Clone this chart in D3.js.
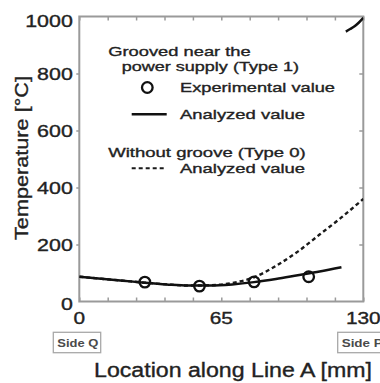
<!DOCTYPE html>
<html><head><meta charset="utf-8">
<script src="https://cdn.jsdelivr.net/npm/d3@7"></script>
<style>
html,body{margin:0;padding:0;background:#fff;}
svg{display:block;font-family:"Liberation Sans",Arial,sans-serif;}
</style></head>
<body>
<svg id="chart" width="380" height="383"></svg>
<script>
// ---- data ----
const xTicksMajor = [0, 65, 130];
const xTicksMinor = [0, 13, 26, 39, 52, 65, 78, 91, 104, 117, 130];
const yTicks = [0, 200, 400, 600, 800, 1000];

const expX = [30, 55, 80, 105];
const expY = [68, 54, 69, 87];

const type1X = [0, 10, 20, 30, 40, 50, 60, 70, 80, 90, 100, 110, 120];
const type1Y = [87, 80, 73, 66, 60, 56, 56, 60, 68, 79, 92, 105, 120];

const type1TopX = [122, 124, 126, 128, 130];
const type1TopY = [947, 956, 966, 979, 995];

const type0X = [0, 10, 20, 30, 40, 50, 60, 70, 80, 90, 100, 110, 120, 130];
const type0Y = [87, 80, 73, 66, 60, 56, 57, 65, 85, 125, 175, 235, 295, 360];

// ---- layout ----
const W = 380, H = 383;
const m = {l: 79.3, t: 16.5, r: 16.7, b: 81.5};
const svg = d3.select("#chart");
const x = d3.scaleLinear().domain([0, 130]).range([m.l, W - m.r]);
const y = d3.scaleLinear().domain([0, 1000]).range([H - m.b, m.t]);
const axisCol = "#9a9a9a", txtCol = "#222";

svg.append("clipPath").attr("id", "clip").append("rect")
  .attr("x", m.l).attr("y", m.t).attr("width", W - m.l - m.r).attr("height", H - m.t - m.b);

function styleAxis(g) {
  g.select(".domain").remove();
  g.selectAll(".tick line").attr("stroke", axisCol).attr("stroke-width", 1.5);
}
svg.append("g").attr("transform", `translate(0,${y(0)})`)
  .call(d3.axisBottom(x).tickValues(xTicksMinor).tickSize(-4).tickFormat(""))
  .call(styleAxis);
svg.append("g").attr("transform", `translate(0,${y(1000)})`)
  .call(d3.axisTop(x).tickValues(xTicksMinor).tickSize(-4).tickFormat(""))
  .call(styleAxis);
svg.append("g").attr("transform", `translate(${x(0)},0)`)
  .call(d3.axisLeft(y).tickValues(yTicks.slice(1, 5)).tickSize(3).tickFormat(""))
  .call(styleAxis);
svg.append("g").attr("transform", `translate(${x(130)},0)`)
  .call(d3.axisRight(y).tickValues(yTicks.slice(1, 5)).tickSize(-4).tickFormat(""))
  .call(styleAxis);

svg.append("rect").attr("x", x(0)).attr("y", y(1000))
  .attr("width", x(130) - x(0)).attr("height", y(0) - y(1000))
  .attr("fill", "none").attr("stroke", axisCol).attr("stroke-width", 2);

const thick = sel => sel.attr("stroke", txtCol).attr("stroke-width", 0.35);

const yLab = svg.append("g").attr("fill", txtCol).attr("font-size", 17).call(thick);
yTicks.forEach(v => {
  yLab.append("text").attr("x", x(0) - 6.5).attr("y", y(v) + (v === 1000 ? 10 : v === 0 ? 8 : 6))
    .attr("text-anchor", "end").text(v)
    .attr("textLength", String(v).length * 11.9).attr("lengthAdjust", "spacingAndGlyphs");
});
const xLab = svg.append("g").attr("fill", txtCol).attr("font-size", 17).call(thick);
xTicksMajor.forEach(v => {
  xLab.append("text").attr("x", x(v)).attr("y", y(0) + 22.5)
    .attr("text-anchor", "middle").text(v)
    .attr("textLength", String(v).length * 11.6).attr("lengthAdjust", "spacingAndGlyphs");
});

svg.append("text").attr("transform", `translate(28,${(76 + 240) / 2}) rotate(-90)`)
  .attr("text-anchor", "middle").attr("font-size", 19).attr("fill", txtCol).call(thick)
  .attr("textLength", 164).attr("lengthAdjust", "spacingAndGlyphs")
  .text("Temperature [°C]");
svg.append("text").attr("x", 94).attr("y", 376.5)
  .attr("font-size", 20).attr("fill", txtCol).call(thick)
  .attr("textLength", 278).attr("lengthAdjust", "spacingAndGlyphs")
  .text("Location along Line A [mm]");

[["Side Q", 53.3, 41], ["Side P", 337.7, 41]].forEach(([s, bx, tl]) => {
  svg.append("rect").attr("x", bx).attr("y", 332.3).attr("width", 47.4).attr("height", 20.4)
    .attr("fill", "#fff").attr("stroke", "#a8a8a8").attr("stroke-width", 1.3);
  svg.append("text").attr("x", bx + 4).attr("y", 347).attr("font-size", 11.5)
    .attr("font-weight", "bold").attr("fill", "#4a4a4a")
    .attr("textLength", tl).attr("lengthAdjust", "spacingAndGlyphs").text(s);
});

const plot = svg.append("g").attr("clip-path", "url(#clip)");
const line = d3.line().x(d => x(d[0])).y(d => y(d[1])).curve(d3.curveMonotoneX);
plot.append("path").datum(d3.zip(type0X, type0Y)).attr("d", line)
  .attr("fill", "none").attr("stroke", "#1a1a1a").attr("stroke-width", 2.4)
  .attr("stroke-dasharray", "4,3");
plot.append("path").datum(d3.zip(type1X, type1Y)).attr("d", line)
  .attr("fill", "none").attr("stroke", "#111").attr("stroke-width", 2.5);
plot.append("path").datum(d3.zip(type1TopX, type1TopY)).attr("d", line)
  .attr("fill", "none").attr("stroke", "#111").attr("stroke-width", 2.5);
plot.selectAll("circle.exp").data(d3.zip(expX, expY)).join("circle")
  .attr("class", "exp").attr("cx", d => x(d[0])).attr("cy", d => y(d[1])).attr("r", 5.3)
  .attr("fill", "none").attr("stroke", "#111").attr("stroke-width", 2.3);

const lg = svg.append("g").attr("fill", txtCol).attr("font-size", 13.5).call(thick);
function lt(s, lx, ly, len) {
  lg.append("text").attr("x", lx).attr("y", ly).attr("textLength", len)
    .attr("lengthAdjust", "spacingAndGlyphs").text(s);
}
lt("Grooved near the", 108.3, 55.7, 142.4);
lt("power supply (Type 1)", 121.7, 71, 177.3);
svg.append("circle").attr("cx", 147.3).attr("cy", 87.5).attr("r", 5.3)
  .attr("fill", "none").attr("stroke", "#111").attr("stroke-width", 2.3);
lt("Experimental value", 180, 92, 155);
svg.append("line").attr("x1", 131.7).attr("x2", 166.7).attr("y1", 114.3).attr("y2", 114.3)
  .attr("stroke", "#111").attr("stroke-width", 2.5);
lt("Analyzed value", 180, 118.5, 125);
lt("Without groove (Type 0)", 108.3, 156.7, 197.4);
svg.append("line").attr("x1", 131.7).attr("x2", 164).attr("y1", 168.3).attr("y2", 168.3)
  .attr("stroke", "#1a1a1a").attr("stroke-width", 2).attr("stroke-dasharray", "4,3");
lt("Analyzed value", 180, 173.3, 125);
</script>
</body></html>
